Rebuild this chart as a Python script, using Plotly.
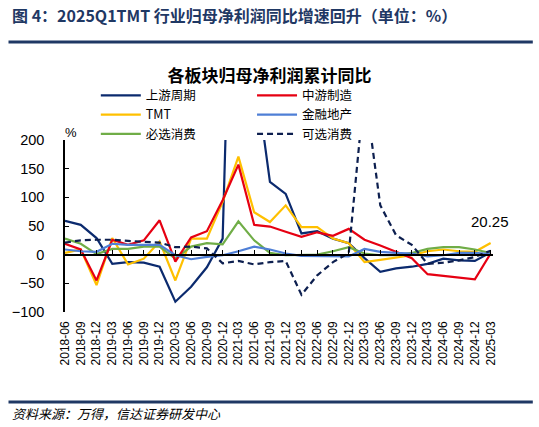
import plotly.graph_objects as go

# quarterly reporting periods
periods = ["2018-06", "2018-09", "2018-12",
           "2019-03", "2019-06", "2019-09", "2019-12",
           "2020-03", "2020-06", "2020-09", "2020-12",
           "2021-03", "2021-06", "2021-09", "2021-12",
           "2022-03", "2022-06", "2022-09", "2022-12",
           "2023-03", "2023-06", "2023-09", "2023-12",
           "2024-03", "2024-06", "2024-09", "2024-12",
           "2025-03"]

# cumulative yoy growth of net profit attributable to parent, %
upstream = [59, 52, 29, -16, -13, -14, -21, -82, -56, -22, 28, 1000, 330, 127, 106, 37, 41, 28, 20,
            -6, -30, -24, -21, -16, -7, -10, -11, 4]
midstream = [19, 9, -45, 26, 17, 25, 60, -12, 30, 41, 95, 157, 52, 49, 40, 31, 39, 33, 45,
             26, 16, 5, -6, -34, -37, -40, -43, 2]
tmt = [3, 9, -53, 29, -17, -7, 23, -45, 28, 28, 92, 171, 74, 57, 86, 48, 48, 28, 20,
       -13, -9, -5, -1, 6, 9, 6, 5, 20.25]
finance_re = [9, 6, 5, 19, 17, 17, 17, -1, -8, -4, -1, 6, 14, 9, 2, -2, -2, -2, -3,
              10, 5, 3, 2, -3, -1, 3, 3, 1]
staples = [28, 19, 1, 10, 10, 14, 14, -7, 14, 20, 18, 58, 25, 3, -1, 0, 0, 6, 13,
           2, -1, -1, 3, 10, 13, 13, 9, 3]
discretionary = [21, 25, 26, 26, 24, 22, 21, 13, 14, 11, -15, -11, -17, -13, -11, -70, -36, -13, 3,
                 290, 86, 34, 17, -16, -14, -10, -4, 7]

navy = "#0B2A6E"
fig = go.Figure()

col1 = dict(legend="legend")
col2 = dict(legend="legend2")
series = [
    ("上游周期", upstream, dict(color=navy, width=2.2), col1),
    ("TMT", tmt, dict(color="#FFC000", width=2.2), col1),
    ("必选消费", staples, dict(color="#70AD47", width=2.2), col1),
    ("中游制造", midstream, dict(color="#E60012", width=2.2), col2),
    ("金融地产", finance_re, dict(color="#4F7FD6", width=2.2), col2),
    ("可选消费", discretionary, dict(color="#0D1F4F", width=2.2, dash="6px,4px"), col2),
]
for name, vals, line, lg in series:
    fig.add_trace(go.Scatter(x=periods, y=vals, name=name, mode="lines", line=line, **lg))

# helper trace for the axis drawn through zero
fig.add_trace(go.Scatter(x=periods, y=[None] * len(periods), xaxis="x2", showlegend=False,
                         hoverinfo="skip", mode="lines"))

fig.add_annotation(x=periods[-1], y=tmt[-1], text="20.25", showarrow=False,
                   xshift=-1, yshift=22, font=dict(family="Liberation Sans", size=15, color="black"))

# header, rules, unit and source
fig.add_annotation(xref="paper", yref="paper", x=-0.128, y=1.727, xanchor="left", yanchor="middle",
                   text="<b>图 4：2025Q1TMT 行业归母净利润同比增速回升（单位：%）</b>",
                   showarrow=False, font=dict(family="Noto Sans CJK SC", size=16, color="#1F3864"))
fig.add_shape(type="line", xref="paper", yref="paper", x0=-0.132, x1=1.093, y0=1.57, y1=1.57,
              line=dict(color="#1F3864", width=3))
fig.add_shape(type="line", xref="paper", yref="paper", x0=-0.132, x1=1.093, y0=-0.523, y1=-0.523,
              line=dict(color="#1F3864", width=3))
fig.add_annotation(xref="paper", yref="paper", x=-0.005, y=1.099, text="%", showarrow=False,
                   font=dict(family="Liberation Sans", size=13, color="black"))
fig.add_annotation(xref="paper", yref="paper", x=-0.128, y=-0.59, xanchor="left", yanchor="middle",
                   text="<i>资料来源：万得，信达证券研发中心</i>", showarrow=False,
                   font=dict(family="Noto Sans CJK SC", size=13, color="black"))

legend_style = dict(orientation="v", yanchor="top", xanchor="left", bgcolor="rgba(0,0,0,0)",
                    font=dict(family="Noto Sans CJK SC", size=12.5, color="black"),
                    tracegroupgap=0, itemwidth=40)

fig.update_layout(
    width=539, height=427,
    margin=dict(l=62, r=46, t=140, b=115),
    paper_bgcolor="white", plot_bgcolor="white",
    title=dict(text="<b>各板块归母净利润累计同比</b>", x=0.5, xref="container", xanchor="center",
               y=0.822, yref="container", yanchor="middle",
               font=dict(family="Noto Sans CJK SC", size=17, color="black")),
    legend=dict(x=0.072, y=1.345, **legend_style),
    legend2=dict(x=0.437, y=1.345, **legend_style),
    xaxis=dict(type="category", range=[0, 27.15], showline=False, showgrid=False, zeroline=False,
               ticks="", tickangle=-90, tickmode="linear", dtick=1, ticklabelstandoff=6,
               tickfont=dict(family="Liberation Sans", size=12, color="black")),
    xaxis2=dict(type="category", overlaying="x", matches="x", anchor="free", position=1 / 3,
                showline=True, linecolor="black", linewidth=1.5, ticks="inside", ticklen=4,
                tickcolor="black", tickwidth=1.3, tickmode="linear", dtick=1,
                showticklabels=False, showgrid=False, zeroline=False),
    yaxis=dict(range=[-100, 200], dtick=50, showline=True, linecolor="black", linewidth=1.5,
               ticks="inside", ticklen=4, tickcolor="black", tickwidth=1.3, showgrid=False,
               zeroline=False, ticklabelstandoff=16,
               tickfont=dict(family="Liberation Sans", size=14.5, color="black")),
    showlegend=True,
)

# drop the default page margin so the figure sits at the window's corner
fig.write_html("out.html", config={"displayModeBar": False},
               post_script="document.body.style.margin='0';")
